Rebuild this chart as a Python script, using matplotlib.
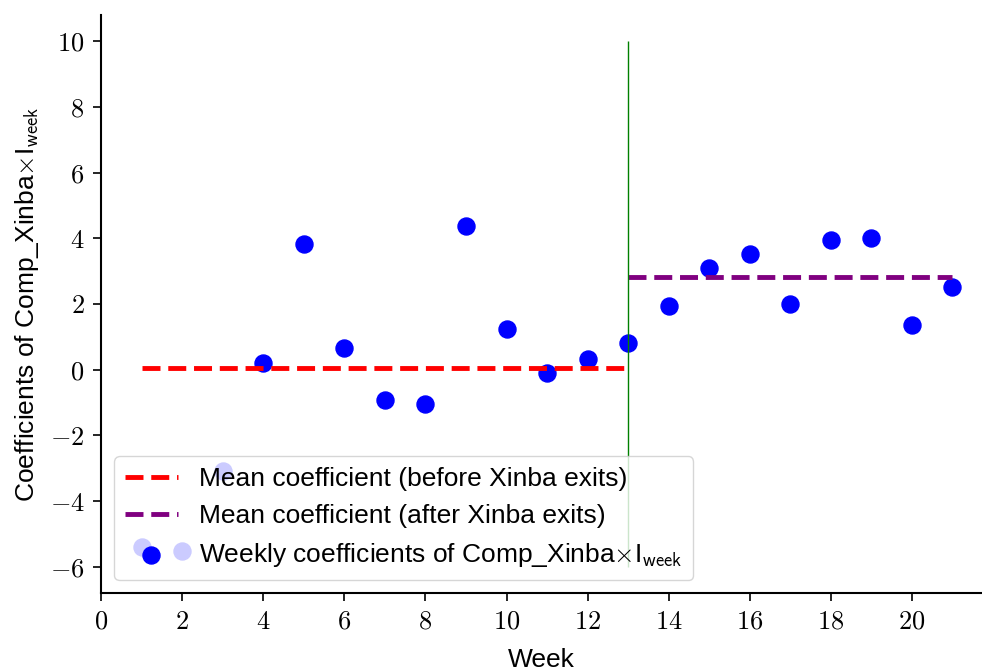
import matplotlib
matplotlib.use("Agg")
import matplotlib.pyplot as plt
from matplotlib.ticker import FuncFormatter

weeks = [1, 2, 3, 4, 5, 6, 7, 8, 9, 10, 11, 12, 13, 14, 15, 16, 17, 18, 19, 20, 21]
coefs = [-5.41, -5.53, -3.07, 0.21, 3.83, 0.67, -0.91, -1.03, 4.38, 1.25, -0.09,
         0.33, 0.82, 1.95, 3.10, 3.53, 2.01, 3.95, 4.01, 1.37, 2.52]
mean_before = 0.06
mean_after = 2.83
exit_week = 13
before_range = [1, 13]
after_range = [13, 21]
vline_range = [-6, 10]

plt.rcParams['mathtext.fontset'] = 'cm'
plt.rcParams['font.family'] = ['Liberation Sans', 'DejaVu Sans']

fig, ax = plt.subplots(figsize=(9.82, 6.71), dpi=100)
fig.subplots_adjust(left=0.103, right=1.0, top=0.978, bottom=0.116)

ax.scatter(weeks, coefs, s=150, color='blue', zorder=2,
           label=r'Weekly coefficients of Comp_Xinba$\times$I$_{\mathsf{week}}$')
ax.plot(before_range, [mean_before, mean_before], color='red', ls='--', lw=3.5, zorder=3,
        label='Mean coefficient (before Xinba exits)')
ax.plot(after_range, [mean_after, mean_after], color='purple', ls='--', lw=3.5, zorder=3,
        label='Mean coefficient (after Xinba exits)')
ax.vlines(exit_week, vline_range[0], vline_range[1], color='green', lw=1, zorder=3)

ax.set_xlim(0, 21.73)
ax.set_ylim(-6.8, 10.8)
ax.set_xticks(range(0, 21, 2))
ax.set_yticks(range(-6, 11, 2))
fmt = FuncFormatter(lambda v, p: r'$%d$' % int(round(v)))
ax.xaxis.set_major_formatter(fmt)
ax.yaxis.set_major_formatter(fmt)
ax.tick_params(labelsize=19, width=1.2, length=6, pad=6)
for s in ['top', 'right']:
    ax.spines[s].set_visible(False)
for s in ['left', 'bottom']:
    ax.spines[s].set_linewidth(1.5)

ax.set_xlabel('Week', fontsize=19, labelpad=10)
ax.set_ylabel(r'Coefficients of Comp_Xinba$\times$I$_{\mathsf{week}}$', fontsize=19, labelpad=6)

handles, labels = ax.get_legend_handles_labels()
order = [1, 2, 0]
ax.legend([handles[i] for i in order], [labels[i] for i in order],
          loc='lower left', fontsize=19, scatterpoints=1, borderaxespad=0.5)

fig.savefig('out.png', dpi=100)
